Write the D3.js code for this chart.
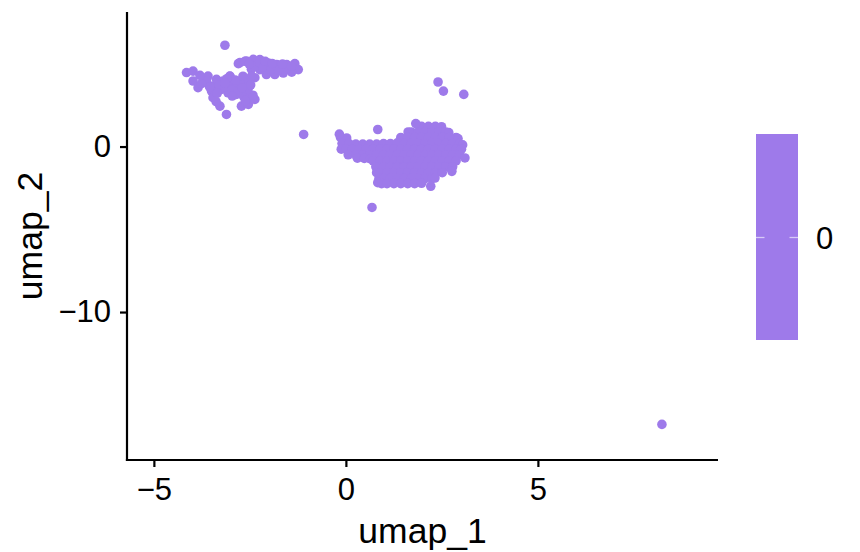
<!DOCTYPE html>
<html>
<head>
<meta charset="utf-8">
<script src="https://cdn.jsdelivr.net/npm/d3@7"></script>
<style>
  html, body { margin: 0; padding: 0; background: #fff; }
  svg { display: block; font-family: "Liberation Sans", Arial, sans-serif; }
</style>
</head>
<body>
<svg id="chart" width="860" height="552"></svg>
<script>
// ---- data (umap_1, umap_2) ----
const upperCluster = [
  [-3.15, 6.12], [-4.15, 4.47], [-3.98, 4.56], [-3.98, 3.96], [-3.85, 3.56],
  [-3.59, 4.26], [-3.63, 3.96], [-3.46, 3.65], [-3.50, 3.35], [-3.46, 2.95],
  [-3.28, 2.44], [-3.11, 1.94], [-3.37, 4.06], [-3.20, 3.96], [-3.02, 4.26],
  [-3.02, 3.76], [-3.24, 3.45], [-3.07, 3.25], [-2.89, 3.56], [-2.85, 3.15],
  [-2.67, 3.05], [-2.50, 2.95], [-2.72, 2.44], [-2.54, 2.55], [-2.37, 2.85],
  [-2.76, 5.07], [-2.59, 5.17], [-2.41, 5.27], [-2.46, 4.67], [-2.59, 3.96],
  [-2.37, 4.16], [-2.80, 5.01], [-2.63, 5.15], [-2.24, 5.25], [-2.02, 5.05],
  [-1.80, 4.95], [-1.54, 4.95], [-1.33, 5.01], [-1.24, 4.65], [-1.41, 4.50],
  [-1.63, 4.44], [-1.85, 4.35], [-2.07, 4.35], [-2.24, 4.65], [-2.37, 4.85],
  [-3.02, 4.24], [-2.63, 4.04], [-2.46, 4.24], [-1.89, 4.87], [-1.72, 4.91],
  [-2.24, 5.07], [-2.15, 4.80], [-1.95, 4.65], [-1.75, 4.62], [-1.55, 4.72],
  [-1.42, 4.85], [-2.10, 5.15], [-1.92, 5.02], [-1.65, 4.98], [-2.52, 5.00],
  [-3.30, 3.70], [-3.14, 3.58], [-2.96, 3.42], [-2.80, 3.35], [-2.76, 3.80],
  [-2.88, 4.02], [-3.10, 4.10], [-2.96, 3.05], [-2.62, 2.78], [-2.42, 3.10],
  [-2.55, 3.45], [-2.48, 3.72], [-3.35, 3.22], [-3.55, 3.60], [-3.76, 3.80],
  [-3.80, 4.30], [-3.38, 2.72], [-2.70, 3.55], [-3.15, 3.85], [-2.68, 4.25]
];
const scatteredPoints = [
  [-1.10, 0.73], [0.83, 1.03], [0.68, -3.68], [2.40, 3.90], [2.54, 3.35],
  [3.07, 3.15], [8.23, -16.79], [1.82, 1.39], [-0.17, 0.75], [3.10, -0.69],
  [2.76, -1.50], [2.21, -2.40], [0.83, -2.18]
];
const mainCluster = [
  [1.97, 1.22], [2.15, 1.22], [2.33, 1.22], [2.49, 1.20],
  [1.62, 0.88], [1.70, 0.88], [1.88, 0.88], [2.06, 0.88], [2.24, 0.88], [2.42, 0.88], [2.60, 0.88], [2.68, 0.84],
  [-0.14, 0.55], [0.02, 0.52], [1.43, 0.55], [1.61, 0.55], [1.79, 0.55], [1.97, 0.55], [2.15, 0.55],
  [2.33, 0.55], [2.51, 0.55], [2.69, 0.55], [2.87, 0.55], [2.92, 0.48],
  [-0.10, 0.18], [0.08, 0.18], [0.26, 0.15], [0.44, 0.15], [0.62, 0.15], [0.80, 0.15], [0.98, 0.18],
  [1.16, 0.18], [1.34, 0.22], [1.52, 0.18], [1.70, 0.18], [1.88, 0.18], [2.06, 0.18], [2.24, 0.18],
  [2.42, 0.18], [2.60, 0.18], [2.78, 0.18], [2.96, 0.18], [3.04, 0.10],
  [-0.12, -0.16], [0.01, -0.16], [0.17, -0.16], [0.35, -0.16], [0.53, -0.16], [0.71, -0.16],
  [0.89, -0.16], [1.07, -0.16], [1.25, -0.16], [1.43, -0.16], [1.61, -0.16], [1.79, -0.16],
  [1.97, -0.16], [2.15, -0.16], [2.33, -0.16], [2.51, -0.16], [2.69, -0.16], [2.87, -0.16], [3.01, -0.16],
  [0.06, -0.50], [0.26, -0.50], [0.44, -0.50], [0.62, -0.50], [0.80, -0.50], [0.98, -0.50],
  [1.16, -0.50], [1.34, -0.50], [1.52, -0.50], [1.70, -0.50], [1.88, -0.50], [2.06, -0.50],
  [2.24, -0.50], [2.42, -0.50], [2.60, -0.50], [2.78, -0.50], [2.96, -0.50],
  [0.30, -0.70], [0.48, -0.72], [0.64, -0.74],
  [0.71, -0.86], [0.89, -0.86], [1.07, -0.86], [1.25, -0.86], [1.43, -0.86], [1.61, -0.86],
  [1.79, -0.86], [1.97, -0.86], [2.15, -0.86], [2.33, -0.86], [2.51, -0.86], [2.69, -0.86], [2.87, -0.86],
  [0.78, -1.22], [0.98, -1.22], [1.16, -1.22], [1.34, -1.22], [1.52, -1.22], [1.70, -1.22],
  [1.88, -1.22], [2.06, -1.22], [2.24, -1.22], [2.42, -1.22], [2.60, -1.22], [2.78, -1.22],
  [0.80, -1.58], [0.89, -1.58], [1.07, -1.58], [1.25, -1.58], [1.43, -1.58], [1.61, -1.58],
  [1.79, -1.58], [1.97, -1.58], [2.15, -1.58], [2.33, -1.58], [2.51, -1.58],
  [0.86, -1.94], [0.98, -1.94], [1.16, -1.94], [1.34, -1.94], [1.52, -1.94], [1.70, -1.94],
  [1.88, -1.94], [2.06, -1.94], [2.24, -1.94], [2.32, -1.90],
  [0.93, -2.24], [1.07, -2.24], [1.25, -2.24], [1.43, -2.24], [1.61, -2.24], [1.79, -2.24], [1.97, -2.22]
];
const xTicks = [-5, 0, 5];
const yTicks = [0, -10];
const legendTicks = [0];
const legendDomain = [-1, 1];
const pointColor = "#9e7aea";
const xTitle = "umap_1";
const yTitle = "umap_2";

// ---- layout ----
const svg = d3.select("#chart");
const plot = { left: 127, right: 718, top: 12, bottom: 460 };

const x = d3.scaleLinear().domain([-5.70, 9.69]).range([plot.left, plot.right]);
const y = d3.scaleLinear().domain([8.13, -18.94]).range([plot.top, plot.bottom]);

const allPoints = upperCluster.concat(mainCluster, scatteredPoints);

svg.append("g")
  .selectAll("circle")
  .data(allPoints)
  .join("circle")
  .attr("cx", d => x(d[0]))
  .attr("cy", d => y(d[1]))
  .attr("r", 4.8)
  .attr("fill", pointColor);

const fmt = d => d < 0 ? "\u2212" + Math.abs(d) : String(d);

// axes
const xAxis = svg.append("g")
  .attr("transform", `translate(0,${plot.bottom})`)
  .call(d3.axisBottom(x).tickValues(xTicks).tickSize(7).tickPadding(11).tickFormat(fmt));
const yAxis = svg.append("g")
  .attr("transform", `translate(${plot.left},0)`)
  .call(d3.axisLeft(y).tickValues(yTicks).tickSize(7).tickPadding(9).tickFormat(fmt));

[xAxis, yAxis].forEach(g => {
  g.select(".domain").attr("stroke", "#000").attr("stroke-width", 2.2);
  g.selectAll(".tick line").attr("stroke", "#000").attr("stroke-width", 2.2);
  g.selectAll(".tick text")
    .attr("fill", "#000")
    .attr("font-size", 31)
    .attr("font-family", "Liberation Sans, Arial, sans-serif");
});
xAxis.select(".domain").attr("d", `M${plot.left - 1.1},0H${plot.right}`);
yAxis.select(".domain").attr("d", `M0,${plot.top}V${plot.bottom + 1.1}`);

// axis titles
svg.append("text")
  .attr("x", (plot.left + plot.right) / 2)
  .attr("y", 543)
  .attr("text-anchor", "middle")
  .attr("font-size", 35.5)
  .attr("fill", "#000")
  .text(xTitle);
svg.append("text")
  .attr("transform", `translate(42,${(plot.top + plot.bottom) / 2}) rotate(-90)`)
  .attr("text-anchor", "middle")
  .attr("font-size", 35.5)
  .attr("fill", "#000")
  .text(yTitle);

// legend colour bar
const lg = { x: 756, w: 42, top: 134, bottom: 340 };
const ly = d3.scaleLinear().domain(legendDomain).range([lg.bottom, lg.top]);
svg.append("rect")
  .attr("x", lg.x).attr("y", lg.top)
  .attr("width", lg.w).attr("height", lg.bottom - lg.top)
  .attr("fill", pointColor);
const lt = svg.append("g").selectAll("g").data(legendTicks).join("g");
lt.append("line")
  .attr("x1", lg.x).attr("x2", lg.x + 8.5)
  .attr("y1", d => ly(d) + 0.5).attr("y2", d => ly(d) + 0.5)
  .attr("stroke", "#fff").attr("stroke-opacity", 0.6).attr("stroke-width", 1.3);
lt.append("line")
  .attr("x1", lg.x + lg.w - 8.5).attr("x2", lg.x + lg.w)
  .attr("y1", d => ly(d) + 0.5).attr("y2", d => ly(d) + 0.5)
  .attr("stroke", "#fff").attr("stroke-opacity", 0.6).attr("stroke-width", 1.3);
lt.append("text")
  .attr("x", lg.x + lg.w + 18)
  .attr("y", d => ly(d) + 1)
  .attr("dy", "0.35em")
  .attr("font-size", 31)
  .attr("fill", "#000")
  .text(d => d);
</script>
</body>
</html>
